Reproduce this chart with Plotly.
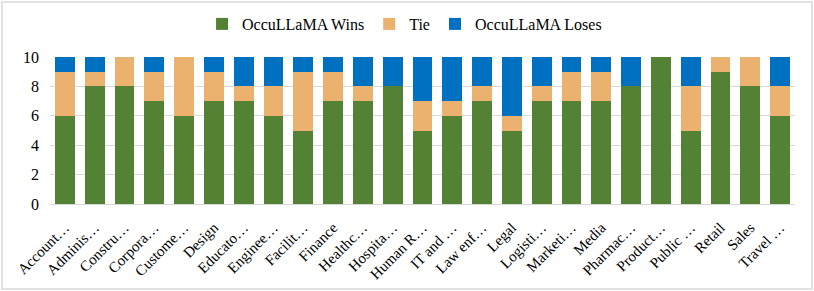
import plotly.graph_objects as go

categories = ["Account…", "Adminis…", "Constru…", "Corpora…", "Custome…", "Design",
              "Educato…", "Enginee…", "Facilit…", "Finance", "Healthc…", "Hospita…",
              "Human R…", "IT and …", "Law enf…", "Legal", "Logisti…", "Marketi…",
              "Media", "Pharmac…", "Product…", "Public …", "Retail", "Sales", "Travel …"]
wins = [6, 8, 8, 7, 6, 7, 7, 6, 5, 7, 7, 8, 5, 6, 7, 5, 7, 7, 7, 8, 10, 5, 9, 8, 6]
ties = [3, 1, 2, 2, 4, 2, 1, 2, 4, 2, 1, 0, 2, 1, 1, 1, 1, 2, 2, 0, 0, 3, 1, 2, 2]
loses = [1, 1, 0, 1, 0, 1, 2, 2, 1, 1, 2, 2, 3, 3, 2, 4, 2, 1, 1, 2, 0, 2, 0, 0, 2]

W, H = 814, 291
ml, mr, mt, mb = 50, 19, 57, 87
SERIF = "Liberation Serif, Times New Roman, serif"

fig = go.Figure()
for name, vals, col in [("OccuLLaMA Wins", wins, "#548235"),
                        ("Tie", ties, "#EAB26E"),
                        ("OccuLLaMA Loses", loses, "#0070C0")]:
    fig.add_trace(go.Bar(x=categories, y=vals, name=name, marker_color=col,
                         marker_line_width=0))

pw = W - ml - mr
ph = H - mt - mb
fig.update_layout(
    barmode="stack",
    bargap=0.33,
    width=W, height=H,
    margin=dict(l=ml, r=mr, t=mt, b=mb, autoexpand=False),
    paper_bgcolor="white", plot_bgcolor="white",
    font=dict(family=SERIF, size=14, color="#000"),
    legend=dict(orientation="h", x=0.497, xref="container", xanchor="center", y=1 - 24 / H,
                yref="container", yanchor="middle",
                font=dict(family=SERIF, size=16, color="#000"), traceorder="normal",
                bgcolor="rgba(0,0,0,0)"),
    xaxis=dict(tickangle=-45, tickfont=dict(family=SERIF, size=15, color="#000"),
               showgrid=False, automargin=False, ticklabelstandoff=8,
               showline=True, linecolor="#d9d9d9", linewidth=1, ticks=""),
    yaxis=dict(range=[0, 10], dtick=2, showgrid=True, gridcolor="#d9d9d9", gridwidth=1,
               zeroline=False, showline=False,
               tickfont=dict(family=SERIF, size=16, color="#000"), ticks="",
               automargin=False, ticklabelstandoff=10),
    shapes=[dict(type="rect", xref="paper", yref="paper",
                 x0=(2 - ml) / pw, x1=(W - 2 - ml) / pw,
                 y0=-(mb - 2) / ph, y1=1 + (mt - 2) / ph,
                 line=dict(color="#d9d9d9", width=1.5), layer="below")],
)

fig.write_html("out.html", config={"displayModeBar": False},
               post_script="document.body.style.margin='0';")
